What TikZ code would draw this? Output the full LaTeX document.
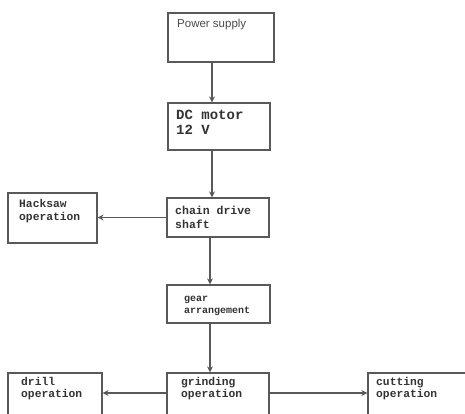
\documentclass[tikz,border=0pt]{standalone}
\usepackage{fontspec}
\setmainfont{Liberation Sans}
\setmonofont{Liberation Mono}
\usetikzlibrary{arrows.meta,calc}
\begin{document}
\begin{tikzpicture}[x=1pt,y=-1pt,
  box/.style={draw=black!65,line width=1.2pt,rectangle,inner sep=0pt},
  lbl/.style={anchor=north west,inner sep=0pt,align=left,text=black!80,font=\ttfamily\bfseries\fontsize{11.5}{14}\selectfont},
  arr/.style={draw=black!65,line width=1.2pt,-{Stealth[length=6pt,width=6pt]}}]
\useasboundingbox (0,0) rectangle (465,414);
\clip (0,0) rectangle (465,414);
\fill[white] (0,0) rectangle (465,414);
% boxes
\node[box,minimum width=106pt,minimum height=49pt] (ps) at (221,37.5) {};
\node[box,minimum width=102pt,minimum height=47pt] (dc) at (219,126.5) {};
\node[box,minimum width=102pt,minimum height=39pt] (ch) at (218,217.5) {};
\node[box,minimum width=89pt,minimum height=50pt] (hk) at (52.5,218) {};
\node[box,minimum width=103pt,minimum height=38pt] (ge) at (218.5,304) {};
\node[box,minimum width=102pt,minimum height=57pt] (gr) at (218,401.5) {};
\node[box,minimum width=94pt,minimum height=57pt] (dr) at (55,401.5) {};
\node[box,minimum width=102pt,minimum height=57pt] (cu) at (419,401.5) {};
% texts
\node[lbl,font=\rmfamily\fontsize{11.5}{13}\selectfont,text=black!70] (tps) at (177,19) {Power supply};
\node[lbl,font=\ttfamily\bfseries\fontsize{14}{15}\selectfont] (tdc) at (176,110) {DC motor\\12 V};
\node[lbl] (tch) at (175,206) {chain drive\\shaft};
\node[lbl,font=\ttfamily\bfseries\fontsize{11.3}{13}\selectfont] (thk) at (19,199) {Hacksaw\\operation};
\node[lbl,font=\ttfamily\bfseries\fontsize{10}{12}\selectfont] (tge) at (184,296) {gear\\arrangement};
\node[lbl,font=\ttfamily\bfseries\fontsize{11.3}{12.5}\selectfont] (tgr) at (181,377) {grinding\\operation};
\node[lbl,font=\ttfamily\bfseries\fontsize{11.3}{12.5}\selectfont] (tdr) at (21,377) {drill\\operation};
\node[lbl,font=\ttfamily\bfseries\fontsize{11.3}{12.5}\selectfont] (tcu) at (376,377) {cutting\\operation};
% connectors
\coordinate (v1) at (212,0);
\coordinate (v2) at (210,0);
\coordinate (hb) at (0,393);
\draw[arr] (ps.south -| v1) -- (dc.north -| v1);
\draw[arr] (dc.south -| v1) -- (ch.north -| v1);
\draw[arr] (ch.south -| v2) -- (ge.north -| v2);
\draw[arr] (ge.south -| v2) -- (gr.north -| v2);
\draw[arr] (ch.west) -- (ch.west -| hk.east);
\draw[arr] (gr.west |- hb) -- (dr.east |- hb);
\draw[arr] (gr.east |- hb) -- (cu.west |- hb);
\end{tikzpicture}
\end{document}
